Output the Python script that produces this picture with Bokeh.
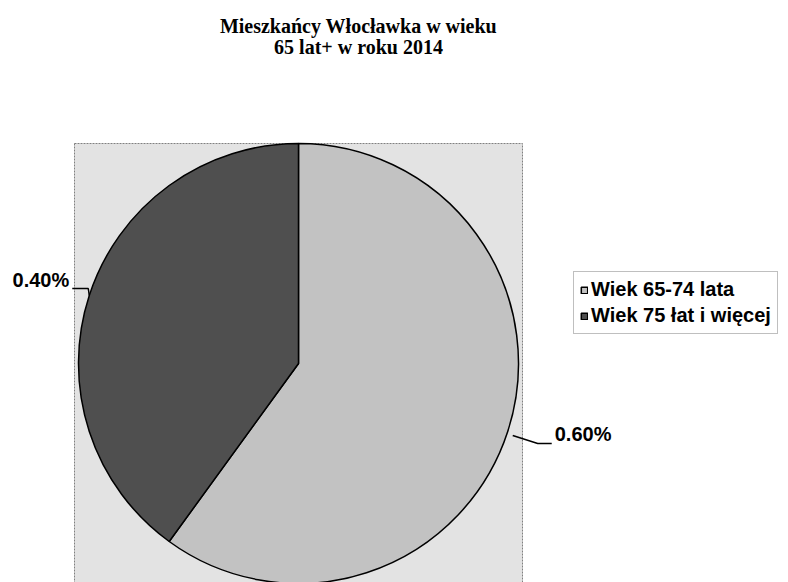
import numpy as np
from bokeh.plotting import figure
from bokeh.models import ColumnDataSource, Range1d, Legend, LegendItem, Label
from bokeh.core.properties import value
from bokeh.embed import file_html
from bokeh.resources import INLINE

# ---- data ----
categories = ["Wiek 65-74 lata", "Wiek 75 łat i więcej"]
shares = [0.60, 0.40]
share_labels = ["0.60%", "0.40%"]
slice_colors = ["#c2c2c2", "#4f4f4f"]
title_lines = ["Mieszkańcy Włocławka w wieku", "65 lat+ w roku 2014"]

W, H = 788, 582
p = figure(width=W, height=H, output_backend="svg", toolbar_location=None,
           x_range=Range1d(0, W), y_range=Range1d(0, H),
           min_border=0, outline_line_color=None)
p.axis.visible = False
p.grid.visible = False
p.background_fill_color = "white"
p.border_fill_color = "white"

# pie geometry (screen-like units)
cx, cy, r = 298, 219, 220

# plot-area box (stippled background)
p.quad(left=cx - r - 4, right=cx + r + 4, top=cy + r, bottom=-20,
       fill_color="#e3e3e3", line_color="#808080", line_width=1, line_dash="2 1")

# wedges, clockwise from 12 o'clock
fr = np.array(shares) / np.sum(shares)
cum = np.concatenate([[0], np.cumsum(fr)])
start = np.pi / 2 - 2 * np.pi * cum[:-1]
end = np.pi / 2 - 2 * np.pi * cum[1:]
src = ColumnDataSource(dict(x=[cx] * len(shares), y=[cy] * len(shares),
                            start=list(start), end=list(end), color=slice_colors,
                            label=categories))
wr = p.wedge(x="x", y="y", radius=r, start_angle="start", end_angle="end",
             direction="clock", fill_color="color", line_color="black",
             line_width=1.5, source=src)

# labels with leader lines
mid = np.pi / 2 - 2 * np.pi * (cum[:-1] + fr / 2)
for ang, lab in zip(mid, share_labels):
    ax, ay = float(cx + r * np.cos(ang)), float(cy + r * np.sin(ang))
    if np.cos(ang) >= 0:
        xs = [ax + 5, ax + 30, ax + 44]
        ys = [ay - 4, ay - 12, ay - 12]
        p.line(xs, ys, line_color="black", line_width=1.5)
        p.add_layout(Label(x=xs[-1] + 3, y=ys[-1] - 2, text=lab, text_align="left",
                           text_baseline="bottom", text_font="Liberation Sans",
                           text_font_style="bold", text_font_size="20px",
                           text_color="black"))
    else:
        xs = [ax, ax - 1, ax - 17]
        ys = [ay, ay + 7, ay + 7]
        p.line(xs, ys, line_color="black", line_width=1.5)
        p.add_layout(Label(x=xs[-1] - 3, y=ys[-1] - 2, text=lab, text_align="right",
                           text_baseline="bottom", text_font="Liberation Sans",
                           text_font_style="bold", text_font_size="20px",
                           text_color="black"))

# title
tsrc = ColumnDataSource(dict(x=[358, 358], y=[557, 536], t=title_lines))
p.text(x="x", y="y", text="t", source=tsrc, text_align="center",
       text_baseline="middle", text_font=value("Liberation Serif"),
       text_font_style="bold", text_font_size="20px", text_color="black")

# legend
legend = Legend(items=[LegendItem(label=categories[i], renderers=[wr], index=i)
                       for i in range(len(categories))],
                location=(573, 248), orientation="vertical",
                label_text_font="Liberation Sans", label_text_font_style="bold",
                label_text_font_size="20px", label_text_color="black",
                glyph_width=8, glyph_height=8, label_standoff=3,
                label_height=22, padding=6, spacing=3, margin=0,
                border_line_color="#808080", border_line_width=1.5,
                background_fill_color="white", background_fill_alpha=1.0)
p.add_layout(legend)

open("out.html", "w").write(file_html(p, INLINE))
